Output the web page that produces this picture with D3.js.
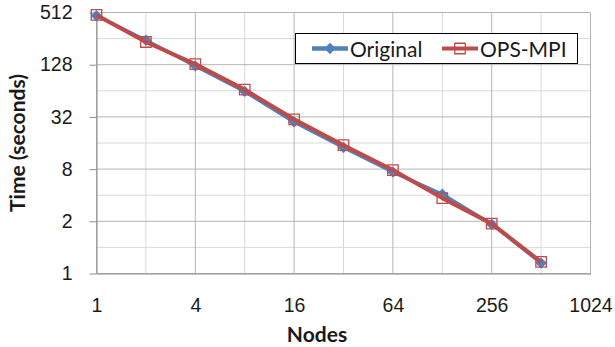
<!DOCTYPE html>
<html>
<head>
<meta charset="utf-8">
<script src="https://cdn.jsdelivr.net/npm/d3@7"></script>
<style>
  html, body { margin: 0; padding: 0; background: #fff; }
  svg { display: block; font-family: Lato, "Open Sans", sans-serif; }
</style>
</head>
<body>
<div id="chart"></div>
<script>
// Nodes (x) and run time in seconds (y)
const nodes = [1, 2, 4, 8, 16, 32, 64, 128, 256, 512];
const original = [470, 245, 124, 63, 28, 14.2, 7.4, 4.1, 1.85, 0.66];
const opsMpi = [480, 234, 130, 66, 30, 15.1, 7.8, 3.7, 1.88, 0.68];

const seriesNames = ["Original", "OPS-MPI"];

// axis ticks (Excel log base 4; bottom 0.5 is shown rounded as "1")
const xMajor = [1, 4, 16, 64, 256, 1024];
const xMinor = [2, 8, 32, 128, 512];
const xTickLabels = ["1", "4", "16", "64", "256", "1024"];
const yMajor = [0.5, 2, 8, 32, 128, 512];
const yMinor = [1, 4, 16, 64, 256];
const yTickLabels = ["1", "2", "8", "32", "128", "512"];

const W = 615, H = 347;
const plot = { left: 96.5, right: 590.5, top: 12.5, bottom: 273.5 };

const svg = d3.select("#chart").append("svg")
  .attr("width", W)
  .attr("height", H);

const x = d3.scaleLog().base(2)
  .domain([1, 1024])
  .range([plot.left, plot.right]);
const y = d3.scaleLog().base(2)
  .domain([0.5, 512])
  .range([plot.bottom, plot.top]);

// gridlines — minor first, majors on top
const grid = svg.append("g");
grid.selectAll("line.xmin").data(xMinor).join("line")
  .attr("x1", (d) => x(d)).attr("x2", (d) => x(d))
  .attr("y1", plot.top).attr("y2", plot.bottom)
  .attr("stroke", "#d9d9d9");
grid.selectAll("line.ymin").data(yMinor).join("line")
  .attr("y1", (d) => y(d)).attr("y2", (d) => y(d))
  .attr("x1", plot.left).attr("x2", plot.right)
  .attr("stroke", "#d9d9d9");
grid.selectAll("line.xmaj").data(xMajor).join("line")
  .attr("x1", (d) => x(d)).attr("x2", (d) => x(d))
  .attr("y1", plot.top).attr("y2", plot.bottom)
  .attr("stroke", "#b4b4b4");
grid.selectAll("line.ymaj").data(yMajor).join("line")
  .attr("y1", (d) => y(d)).attr("y2", (d) => y(d))
  .attr("x1", plot.left).attr("x2", plot.right)
  .attr("stroke", "#b4b4b4");

// axes
const xAxis = svg.append("g")
  .attr("transform", `translate(0,${plot.bottom})`)
  .call(d3.axisBottom(x)
    .tickValues(xMajor)
    .tickFormat((d, i) => xTickLabels[i])
    .tickSize(0)
    .tickPadding(25));
xAxis.select(".domain").attr("stroke", "#8c8c8c");

const yAxis = svg.append("g")
  .attr("transform", `translate(${plot.left},0)`)
  .call(d3.axisLeft(y)
    .tickValues(yMajor)
    .tickFormat((d, i) => yTickLabels[i])
    .tickSize(7)
    .tickPadding(17)
    .tickSizeOuter(0));
yAxis.select(".domain").attr("stroke", "#8c8c8c");
yAxis.selectAll(".tick line").attr("stroke", "#8c8c8c");

svg.selectAll(".tick text")
  .attr("fill", "#1a1a1a")
  .style("font-size", "19.5px");

// axis titles
svg.append("text")
  .attr("transform", "translate(25,143) rotate(-90)")
  .attr("text-anchor", "middle")
  .style("font-size", "21px")
  .style("font-weight", "700")
  .attr("fill", "#1a1a1a")
  .text("Time (seconds)");

svg.append("text")
  .attr("x", 317).attr("y", 342)
  .attr("text-anchor", "middle")
  .style("font-size", "21px")
  .style("font-weight", "700")
  .attr("fill", "#1a1a1a")
  .text("Nodes");

// series
const BLUE = "#4f81bd", RED = "#be4b48";
const diamond = d3.symbol().type(d3.symbolSquare).size(64);
const square = d3.symbol().type(d3.symbolSquare).size(110);

const line = d3.line()
  .x((d) => x(d[0]))
  .y((d) => y(d[1]));

const blueData = d3.zip(nodes, original);
const redData = d3.zip(nodes, opsMpi);

svg.append("path").datum(blueData)
  .attr("d", line)
  .attr("fill", "none")
  .attr("stroke", BLUE)
  .attr("stroke-width", 3.5)
  .attr("stroke-linejoin", "round");
svg.append("g").selectAll("path").data(blueData).join("path")
  .attr("d", diamond)
  .attr("transform", (d) => `translate(${x(d[0])},${y(d[1])}) rotate(45)`)
  .attr("fill", BLUE);

svg.append("path").datum(redData)
  .attr("d", line)
  .attr("fill", "none")
  .attr("stroke", RED)
  .attr("stroke-width", 4)
  .attr("stroke-linejoin", "round");
svg.append("g").selectAll("path").data(redData).join("path")
  .attr("d", square)
  .attr("transform", (d) => `translate(${x(d[0])},${y(d[1])})`)
  .attr("fill", "none")
  .attr("stroke", RED)
  .attr("stroke-width", 1.3);

// legend
const lg = svg.append("g");
lg.append("rect")
  .attr("x", 295.5).attr("y", 33.5)
  .attr("width", 282).attr("height", 30)
  .attr("fill", "#fff")
  .attr("stroke", "#000");

const legendItems = [
  { name: seriesNames[0], color: BLUE, x0: 312, width: 4.5 },
  { name: seriesNames[1], color: RED, x0: 442, width: 4 },
];
legendItems.forEach((it, i) => {
  lg.append("line")
    .attr("x1", it.x0).attr("x2", it.x0 + 36)
    .attr("y1", 48.5).attr("y2", 48.5)
    .attr("stroke", it.color)
    .attr("stroke-width", it.width);
  if (i === 0) {
    lg.append("path").attr("d", diamond)
      .attr("transform", `translate(${it.x0 + 18},48.5) rotate(45)`)
      .attr("fill", it.color);
  } else {
    lg.append("path").attr("d", square)
      .attr("transform", `translate(${it.x0 + 18},48.5)`)
      .attr("fill", "none")
      .attr("stroke", it.color)
      .attr("stroke-width", 1.3);
  }
  lg.append("text")
    .attr("x", it.x0 + 38).attr("y", 56.5)
    .style("font-size", "21px")
    .attr("fill", "#1a1a1a")
    .text(it.name);
});
</script>
</body>
</html>
